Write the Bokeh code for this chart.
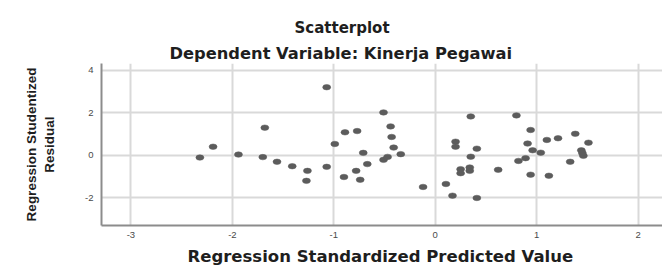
from bokeh.plotting import figure
from bokeh.models import Range1d, FixedTicker, Title
from bokeh.embed import file_html
from bokeh.resources import INLINE

# Predicted (x) and studentized residual (y) values
pred = [-2.32, -2.19, -1.94, -1.68, -1.70, -1.56, -1.41, -1.26, -1.27, -1.07,
        -1.07, -0.99, -0.89, -0.77, -0.90, -0.71, -0.78, -0.74, -0.67, -0.51,
        -0.44, -0.43, -0.41, -0.34, -0.51, -0.47, -0.12, 0.105, 0.17, 0.20,
        0.20, 0.35, 0.41, 0.35, 0.25, 0.25, 0.34, 0.34, 0.41, 0.62,
        0.80, 0.82, 0.89, 0.94, 0.91, 0.96, 1.04, 0.94, 1.10, 1.21,
        1.12, 1.38, 1.51, 1.44, 1.46, 1.45, 1.33]
resid = [-0.11, 0.40, 0.03, 1.30, -0.09, -0.31, -0.52, -0.74, -1.21, 3.21,
         -0.55, 0.53, 1.08, 1.14, -1.03, 0.11, -0.74, -1.16, -0.42, 2.02,
         1.36, 0.86, 0.36, 0.05, -0.22, -0.08, -1.50, -1.36, -1.91, 0.64,
         0.40, 1.83, 0.31, -0.07, -0.66, -0.85, -0.58, -0.74, -2.02, -0.69,
         1.88, -0.27, -0.14, 1.19, 0.55, 0.23, 0.12, -0.92, 0.72, 0.80,
         -0.97, 1.01, 0.59, 0.23, -0.03, 0.10, -0.31]

x_ticks = [-3, -2, -1, 0, 1, 2]
y_ticks = [-2, 0, 2, 4]
y_tick_labels = {-2: "-2", 0: "0", 2: "2", 4: "4"}
x_tick_labels = {-3: "-3", -2: "-2", -1: "-1", 0: "0", 1: "1", 2: "2"}

title_main = "Scatterplot"
title_sub = "Dependent Variable: Kinerja Pegawai"
x_label = "Regression Standardized Predicted Value"
y_label = "Regression Studentized\nResidual"

p = figure(width=662, height=271, output_backend="svg", toolbar_location=None,
           x_range=Range1d(-3.29, 2.24), y_range=Range1d(-3.32, 4.33),
           min_border_left=101, min_border_right=0, min_border_top=63,
           min_border_bottom=46)
p.background_fill_color = "white"
p.border_fill_color = "white"
p.outline_line_color = None

# titles (outer one first, inner one added after)
p.title.text = title_main
p.title.align = "left"
p.title.offset = 193
p.title.text_font = "DejaVu Sans"
p.title.text_font_style = "bold"
p.title.text_font_size = "15px"
p.title.text_color = "#1e1e1e"
p.title.standoff = 7

t2 = Title(text=title_sub, align="left", offset=68, text_font="DejaVu Sans",
           text_font_style="bold", text_font_size="16.3px", text_color="#1e1e1e",
           standoff=2)
p.add_layout(t2, "above")

p.xaxis.ticker = FixedTicker(ticks=x_ticks)
p.yaxis.ticker = FixedTicker(ticks=y_ticks)
p.xgrid.ticker = FixedTicker(ticks=x_ticks)
p.ygrid.ticker = FixedTicker(ticks=y_ticks)
p.xaxis.major_label_overrides = x_tick_labels
p.yaxis.major_label_overrides = y_tick_labels

for ax in (p.xaxis, p.yaxis):
    ax.axis_line_color = "#8c8c8c"
    ax.axis_line_width = 2
    ax.major_tick_line_color = None
    ax.minor_tick_line_color = None
    ax.major_tick_out = 0
    ax.major_tick_in = 0
    ax.minor_tick_out = 0
    ax.minor_tick_in = 0
    ax.major_label_text_font = "Liberation Sans"
    ax.major_label_text_font_size = "9.5px"
    ax.major_label_text_color = "#4a4a4a"

p.xaxis.major_label_standoff = 6
p.yaxis.major_label_standoff = 8

p.yaxis.axis_label = y_label
p.yaxis.axis_label_text_font = "Liberation Sans"
p.yaxis.axis_label_text_font_style = "bold"
p.yaxis.axis_label_text_font_size = "13.5px"
p.yaxis.axis_label_text_color = "#1e1e1e"
p.yaxis.axis_label_standoff = 25

xt = Title(text=x_label, align="left", offset=86, text_font="DejaVu Sans",
           text_font_style="bold", text_font_size="16.5px", text_color="#1e1e1e",
           standoff=8)
p.add_layout(xt, "below")

for g in (p.xgrid, p.ygrid):
    g.grid_line_color = "#d9d9d9"
    g.grid_line_width = 2

p.ellipse(x=pred, y=resid, width=8, height=5.5, width_units="screen",
          height_units="screen", fill_color="#5c5c5c", line_color="#5c5c5c",
          line_width=0.5)

open("out.html", "w").write(file_html(p, INLINE))
